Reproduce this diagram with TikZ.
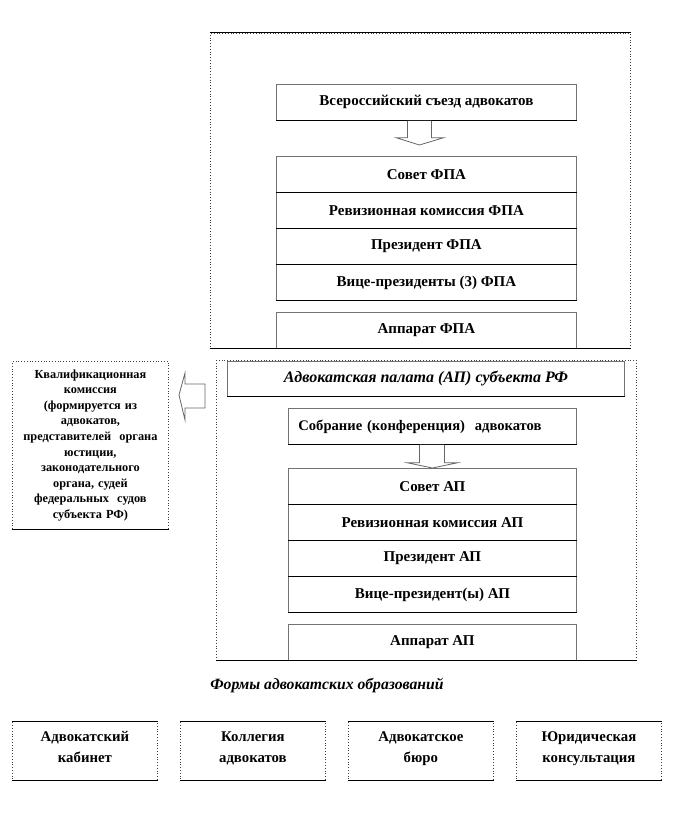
\documentclass[tikz,border=0pt]{standalone}
\usepackage{fontspec}
\setmainfont{Liberation Serif}
\usetikzlibrary{calc}
\begin{document}
\begin{tikzpicture}[x=1pt,y=-1pt,
  outerbox/.style={draw=black!75,dotted,line width=0.8pt,inner sep=0pt,anchor=north west},
  solidedge/.style={draw=black,line width=1pt},
  inbox/.style={draw=black!55,line width=0.8pt,inner sep=0pt,anchor=north west,
    font=\bfseries\fontsize{15}{17}\selectfont},
  formbox/.style={outerbox,align=center,minimum width=145pt,minimum height=59pt,
    font=\bfseries\fontsize{14.8}{21}\selectfont},
  blockarrow/.style={draw=black!60,line width=0.8pt,fill=white}
]
\useasboundingbox (0,0) rectangle (672,840);
% ---------- FPA ----------
\node[outerbox,minimum width=420pt,minimum height=315pt] (fpa) at (210,33) {};
\draw[solidedge] (fpa.north west) -- (fpa.north east);
\draw[solidedge] (fpa.south west) -- (fpa.south east);

\node[inbox,minimum width=300pt,minimum height=36pt] (congress) at (276,84) {Всероссийский съезд адвокатов};
\node[inbox,minimum width=300pt,minimum height=36pt] (sovfpa) at (276,156) {Совет ФПА};
\node[inbox,minimum width=300pt,minimum height=36pt] (revfpa) at (276,192) {Ревизионная комиссия ФПА};
\node[inbox,minimum width=300pt,minimum height=36pt] (presfpa) at (276,228) {Президент ФПА};
\node[inbox,minimum width=300pt,minimum height=36pt] (vicefpa) at (276,264) {Вице-президенты (3) ФПА};
\node[inbox,minimum width=300pt,minimum height=36pt] (appfpa) at (276,312) {Аппарат ФПА};
\foreach \n in {congress,sovfpa,revfpa,presfpa,vicefpa,appfpa}
  \draw[solidedge] (\n.south west) -- (\n.south east);

\draw[blockarrow] ($(congress.south)+(-19,0)$) -- ($(congress.south)+(-19,17)$)
  -- ($(congress.south)+(-30,17)$) -- ($(sovfpa.north)+(-7,-11)$)
  -- ($(congress.south)+(17,17)$) -- ($(congress.south)+(5,17)$)
  -- ($(congress.south)+(5,0)$);

% ---------- AP ----------
\node[outerbox,minimum width=420pt,minimum height=300pt] (ap) at (216,360) {};
\draw[solidedge] (ap.south west) -- (ap.south east);

\node[inbox,minimum width=397pt,minimum height=35pt,
  font=\bfseries\itshape\fontsize{16}{18}\selectfont] (aptitle) at (227,361) {Адвокатская палата (АП) субъекта РФ};
\draw[solidedge] (aptitle.south west) -- (aptitle.south east);

\node[inbox,minimum width=288pt,minimum height=36pt,inner xsep=10pt,text width=268pt,align=left,
  font=\bfseries\fontsize{14.6}{17}\selectfont] (meeting) at (288,408) {Собрание (конференция)\ \ адвокатов};
\node[inbox,minimum width=288pt,minimum height=36pt] (sovap) at (288,468) {Совет АП};
\node[inbox,minimum width=288pt,minimum height=36pt] (revap) at (288,504) {Ревизионная комиссия АП};
\node[inbox,minimum width=288pt,minimum height=36pt] (presap) at (288,540) {Президент АП};
\node[inbox,minimum width=288pt,minimum height=36pt] (viceap) at (288,576) {Вице-президент(ы) АП};
\node[inbox,minimum width=288pt,minimum height=36pt] (appap) at (288,624) {Аппарат АП};
\foreach \n in {meeting,sovap,revap,presap,viceap,appap}
  \draw[solidedge] (\n.south west) -- (\n.south east);

\draw[blockarrow] ($(meeting.south)+(-13,0)$) -- ($(meeting.south)+(-13,18)$)
  -- ($(meeting.south)+(-25,18)$) -- (sovap.north)
  -- ($(meeting.south)+(25,18)$) -- ($(meeting.south)+(12,18)$)
  -- ($(meeting.south)+(12,0)$);

% ---------- Qualification commission ----------
\node[outerbox,minimum width=156pt,minimum height=168pt,text width=154pt,align=center,
  font=\bfseries\fontsize{12.3}{15.6}\selectfont] (qual) at (12,361)
  {Квалификационная\\комиссия\\(формируется из\\адвокатов,\\представителей\ \ органа\\юстиции,\\законодательного\\органа, судей\\федеральных\ \ судов\\субъекта РФ)};
\draw[solidedge] (qual.south west) -- (qual.south east);

\coordinate (qtip) at (179,395);
\draw[blockarrow] ($(qtip)+(26,-11)$) -- ($(qtip)+(6,-11)$)
  -- ($(qtip)+(6,-22)$) -- (qtip) -- ($(qtip)+(6,25)$)
  -- ($(qtip)+(6,13)$) -- ($(qtip)+(26,13)$) -- cycle;

% ---------- Forms ----------
\node[font=\bfseries\itshape\fontsize{15.7}{18}\selectfont] (formtitle) at (327,686) {Формы адвокатских образований};

\node[formbox,text depth=8pt] (f1) at (12,721) {Адвокатский\\кабинет};
\node[formbox,text depth=8pt] (f2) at (180,721) {Коллегия\\адвокатов};
\node[formbox,text depth=8pt] (f3) at (348,721) {Адвокатское\\бюро};
\node[formbox,text depth=8pt] (f4) at (516,721) {Юридическая\\консультация};
\foreach \n in {f1,f2,f3,f4}{
  \draw[solidedge] (\n.south west) -- (\n.south east);
  \draw[solidedge] (\n.north west) -- (\n.north east);}
\end{tikzpicture}
\end{document}
